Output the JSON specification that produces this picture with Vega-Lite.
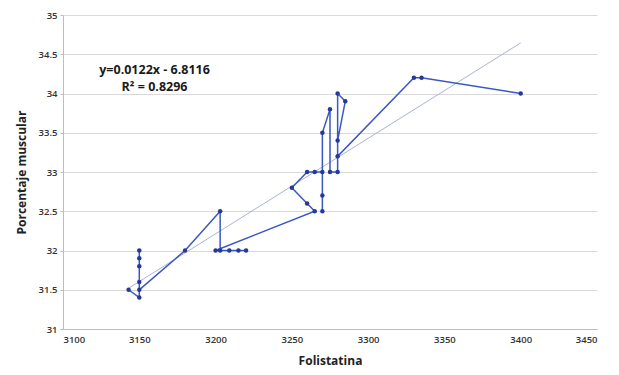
{
  "$schema": "https://vega.github.io/schema/vega-lite/v6.json",
  "width": 534,
  "height": 314,
  "autosize": {"type": "none"},
  "padding": {"left": 63, "top": 15, "right": 22, "bottom": 46},
  "background": "white",
  "config": {
    "view": {"stroke": null},
    "font": "Open Sans",
    "axis": {
      "labelFont": "Open Sans",
      "labelFontWeight": 600,
      "labelFontSize": 9.5,
      "labelColor": "#333333",
      "titleFont": "Open Sans",
      "titleFontWeight": "bold",
      "titleFontSize": 12,
      "titleColor": "#222222",
      "gridColor": "#d9d9d9",
      "domainColor": "#bdbdbd",
      "tickColor": "#bdbdbd",
      "labelOverlap": false
    }
  },
  "datasets": {
    "pts": [
      {"i": 1, "x": 3143, "y": 31.5},
      {"i": 2, "x": 3150, "y": 31.4},
      {"i": 3, "x": 3150, "y": 32.0},
      {"i": 4, "x": 3150, "y": 31.9},
      {"i": 5, "x": 3150, "y": 31.8},
      {"i": 6, "x": 3150, "y": 31.6},
      {"i": 7, "x": 3150, "y": 31.5},
      {"i": 8, "x": 3180, "y": 32.0},
      {"i": 9, "x": 3203, "y": 32.5},
      {"i": 10, "x": 3203, "y": 32.0},
      {"i": 11, "x": 3220, "y": 32.0},
      {"i": 12, "x": 3215, "y": 32.0},
      {"i": 13, "x": 3209, "y": 32.0},
      {"i": 14, "x": 3200, "y": 32.0},
      {"i": 15, "x": 3265, "y": 32.5},
      {"i": 16, "x": 3260, "y": 32.6},
      {"i": 17, "x": 3250, "y": 32.8},
      {"i": 18, "x": 3260, "y": 33.0},
      {"i": 19, "x": 3265, "y": 33.0},
      {"i": 20, "x": 3270, "y": 33.0},
      {"i": 21, "x": 3270, "y": 32.7},
      {"i": 22, "x": 3270, "y": 32.5},
      {"i": 23, "x": 3270, "y": 33.5},
      {"i": 24, "x": 3275, "y": 33.8},
      {"i": 25, "x": 3275, "y": 33.0},
      {"i": 26, "x": 3280, "y": 33.0},
      {"i": 27, "x": 3280, "y": 34.0},
      {"i": 28, "x": 3285, "y": 33.9},
      {"i": 29, "x": 3280, "y": 33.4},
      {"i": 30, "x": 3280, "y": 33.2},
      {"i": 31, "x": 3330, "y": 34.2},
      {"i": 32, "x": 3335, "y": 34.2},
      {"i": 33, "x": 3400, "y": 34.0}
    ],
    "labels": [
      {"x": 3160, "y": 34.3, "t": "y=0.0122x - 6.8116"},
      {"x": 3160, "y": 34.08, "t": "R² = 0.8296"}
    ]
  },
  "encoding": {
    "x": {
      "field": "x", "type": "quantitative",
      "scale": {"domain": [3100, 3450], "nice": false, "zero": false},
      "axis": {"values": [3100, 3150, 3200, 3250, 3300, 3350, 3400, 3450], "format": "d", "grid": false, "ticks": false, "domain": true, "labelPadding": 5, "title": "Folistatina", "titlePadding": 12}
    },
    "y": {
      "field": "y", "type": "quantitative",
      "scale": {"domain": [31, 35], "nice": false, "zero": false},
      "axis": {"values": [31, 31.5, 32, 32.5, 33, 33.5, 34, 34.5, 35], "format": "~g", "grid": true, "domain": true, "ticks": true, "tickSize": 3, "labelPadding": 3, "title": "Porcentaje muscular", "titlePadding": 10}
    }
  },
  "layer": [
    {
      "data": {"name": "pts"},
      "transform": [{"regression": "y", "on": "x"}],
      "mark": {"type": "line", "color": "#a8b3da", "strokeWidth": 1}
    },
    {
      "data": {"name": "pts"},
      "mark": {"type": "line", "color": "#3b58c0", "strokeWidth": 1.5},
      "encoding": {
        "order": {"field": "i", "type": "quantitative"}
      }
    },
    {
      "data": {"name": "pts"},
      "mark": {"type": "circle", "color": "#24399b", "opacity": 1, "size": 20}
    },
    {
      "data": {"name": "labels"},
      "mark": {"type": "text", "font": "Open Sans", "fontWeight": "bold", "fontSize": 12.5, "color": "#1a1a1a", "align": "center", "baseline": "middle"},
      "encoding": {
        "text": {"field": "t"}
      }
    }
  ]
}
